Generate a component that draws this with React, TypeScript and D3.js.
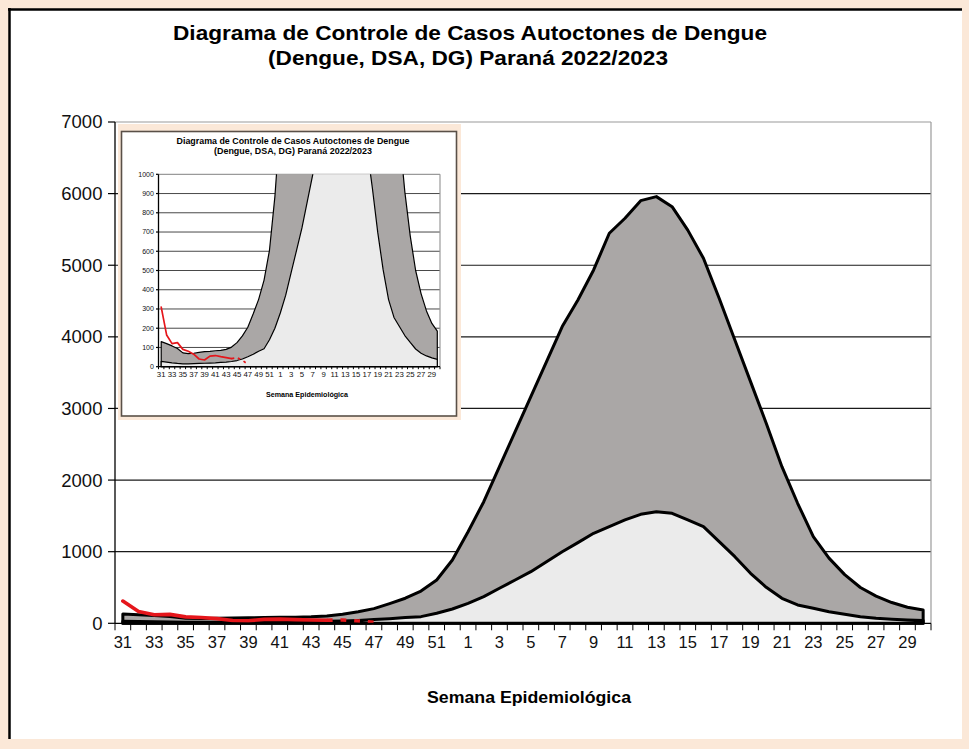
import * as d3 from "d3";

// semanas epidemiológicas 31/2022 .. 30/2023
const weeks = [
  31, 32, 33, 34, 35, 36, 37, 38, 39, 40, 41, 42, 43, 44, 45, 46, 47, 48, 49, 50, 51, 52,
  1, 2, 3, 4, 5, 6, 7, 8, 9, 10, 11, 12, 13, 14, 15, 16, 17, 18, 19, 20, 21, 22, 23, 24, 25,
  26, 27, 28, 29, 30,
];

// limite superior (área cinza escura)
const limiteSuperior = [
  130, 120, 108, 95, 72, 68, 70, 74, 78, 80, 83, 85, 90, 102, 125, 160, 205, 275, 350, 450,
  605, 884, 1279, 1698, 2187, 2676, 3165, 3654, 4143, 4515, 4934, 5447, 5656, 5902, 5958,
  5818, 5490, 5097, 4539, 3957, 3375, 2793, 2187, 1676, 1210, 910, 680, 500, 380, 290, 225,
  185,
];

// média / limite inferior (área cinza clara)
const limiteInferior = [
  28, 24, 20, 17, 15, 15, 16, 17, 18, 19, 20, 22, 24, 27, 32, 40, 52, 65, 80, 93, 140, 200,
  279, 372, 489, 605, 721, 861, 1000, 1126, 1257, 1349, 1443, 1522, 1559, 1536, 1443, 1349,
  1140, 930, 698, 503, 349, 256, 209, 162, 126, 92, 70, 56, 46, 38,
];

// casos 2022/2023 (linha vermelha)
const casos = [310, 165, 120, 125, 90, 80, 65, 40, 35, 55, 58, 52, 47, 42];
// semanas mais recentes, ainda em aberto (tracejado)
const casosProvisorios = [42, 47, 33, 12];
const inicioProvisorio = 13;

const mainTicks = [0, 1000, 2000, 3000, 4000, 5000, 6000, 7000];
const insetTicks = [0, 100, 200, 300, 400, 500, 600, 700, 800, 900, 1000];

const titulo1 = "Diagrama de Controle de Casos Autoctones de Dengue";
const titulo2 = "(Dengue, DSA, DG) Paraná 2022/2023";
const eixoX = "Semana Epidemiológica";

const FONT = "'Liberation Sans', Arial, sans-serif";

const ControlChart = ({
  left,
  right,
  top,
  bottom,
  ticks,
  fontY,
  fontX,
  xLabelDy,
  tickLen,
  areaWidth,
  redWidth,
  gridWidth,
  clipId,
}) => {
  const x = d3.scaleBand().domain(d3.range(weeks.length)).range([left, right]);
  const cx = (i) => x(i) + x.bandwidth() / 2;
  const yMax = ticks[ticks.length - 1];
  const y = d3.scaleLinear().domain([0, yMax]).range([bottom, top]);

  const area = d3
    .area()
    .x((d, i) => cx(i))
    .y0(y(0))
    .y1((d) => y(d));

  const line = d3
    .line()
    .x((d, i) => cx(i))
    .y((d) => y(d));

  const lineProv = d3
    .line()
    .x((d, i) => cx(i + inicioProvisorio))
    .y((d) => y(d));

  const boundaries = d3.range(weeks.length + 1).map((i) => left + i * x.step());

  return (
    <g>
      <defs>
        <clipPath id={clipId}>
          <rect x={left} y={top} width={right - left} height={bottom - top + 2} />
        </clipPath>
      </defs>
      <rect x={left} y={top} width={right - left} height={bottom - top} fill="#fff" />
      {ticks.slice(1, -1).map((t) => (
        <line
          key={t}
          x1={left}
          x2={right}
          y1={y(t)}
          y2={y(t)}
          stroke="#1a1a1a"
          strokeWidth={gridWidth}
        />
      ))}
      <line x1={left} x2={right} y1={top} y2={top} stroke="#9a9a9a" strokeWidth={1.2} />
      <line x1={right} x2={right} y1={top} y2={bottom} stroke="#9a9a9a" strokeWidth={1.2} />

      <g clipPath={`url(#${clipId})`}>
        <path
          d={area(limiteSuperior)}
          fill="#aaa7a6"
          stroke="#000"
          strokeWidth={areaWidth}
          strokeLinejoin="round"
        />
        <path
          d={area(limiteInferior)}
          fill="#ebebeb"
          stroke="#000"
          strokeWidth={areaWidth}
          strokeLinejoin="round"
        />
        <path
          d={line(casos)}
          fill="none"
          stroke="#e5161b"
          strokeWidth={redWidth}
          strokeLinejoin="round"
          strokeLinecap="round"
        />
        <path
          d={lineProv(casosProvisorios)}
          fill="none"
          stroke="#e5161b"
          strokeWidth={redWidth}
          strokeDasharray={`${redWidth * 1.6} ${redWidth * 2.2}`}
        />
      </g>

      {/* eixo Y */}
      <line x1={left} x2={left} y1={top} y2={bottom} stroke="#000" strokeWidth={1.3} />
      {ticks.map((t) => (
        <g key={t}>
          <line
            x1={left - tickLen}
            x2={left}
            y1={y(t)}
            y2={y(t)}
            stroke="#000"
            strokeWidth={1.2}
          />
          <text
            x={left - tickLen - fontY * 0.3}
            y={y(t)}
            dy="0.35em"
            textAnchor="end"
            fontSize={fontY}
            fontFamily={FONT}
            fill="#111"
          >
            {t}
          </text>
        </g>
      ))}

      {/* eixo X */}
      <line x1={left} x2={right} y1={bottom} y2={bottom} stroke="#000" strokeWidth={1.3} />
      {boundaries.map((bx, i) => (
        <line
          key={i}
          x1={bx}
          x2={bx}
          y1={bottom}
          y2={bottom + tickLen}
          stroke="#000"
          strokeWidth={1}
        />
      ))}
      {weeks.map((w, i) =>
        i % 2 === 0 ? (
          <text
            key={i}
            x={cx(i)}
            y={bottom + xLabelDy}
            textAnchor="middle"
            fontSize={fontX}
            fontFamily={FONT}
            fill="#111"
          >
            {w}
          </text>
        ) : null
      )}
    </g>
  );
};

export default function App() {
  const W = 969;
  const H = 749;
  return (
    <svg
      width={W}
      height={H}
      style={{ position: "absolute", left: 0, top: 0, display: "block" }}
    >
      <rect x={0} y={0} width={W} height={H} fill="#fbe8d8" />
      <rect x={9} y={9} width={953} height={730} fill="#fff" />
      <line x1={8} x2={962} y1={9.5} y2={9.5} stroke="#000" strokeWidth={2.5} />
      <line x1={9.5} x2={9.5} y1={8} y2={739} stroke="#000" strokeWidth={2.5} />

      <text
        x={470}
        y={40}
        textAnchor="middle"
        fontSize={20.5}
        fontWeight="bold"
        fontFamily={FONT}
        textLength={594}
        lengthAdjust="spacingAndGlyphs"
      >
        {titulo1}
      </text>
      <text
        x={468}
        y={65}
        textAnchor="middle"
        fontSize={20.5}
        fontWeight="bold"
        fontFamily={FONT}
        textLength={400}
        lengthAdjust="spacingAndGlyphs"
      >
        {titulo2}
      </text>

      <ControlChart
        left={115}
        right={931}
        top={122}
        bottom={623.3}
        ticks={mainTicks}
        fontY={18.5}
        fontX={16.5}
        xLabelDy={25}
        tickLen={7}
        areaWidth={3}
        redWidth={3.6}
        gridWidth={1.2}
        clipId="clipMain"
      />

      <text
        x={529}
        y={703}
        textAnchor="middle"
        fontSize={16.5}
        fontWeight="bold"
        fontFamily={FONT}
        textLength={204}
        lengthAdjust="spacingAndGlyphs"
      >
        {eixoX}
      </text>

      {/* gráfico ampliado (0–1000) */}
      <rect x={118} y={124} width={343} height={296} fill="#fbe8d8" />
      <rect
        x={121.5}
        y={131.5}
        width={335}
        height={284.5}
        fill="#fff"
        stroke="#5a5048"
        strokeWidth={1.6}
      />
      <text
        x={293}
        y={144}
        textAnchor="middle"
        fontSize={8.5}
        fontWeight="bold"
        fontFamily={FONT}
        textLength={233}
        lengthAdjust="spacingAndGlyphs"
      >
        {titulo1}
      </text>
      <text
        x={293}
        y={154}
        textAnchor="middle"
        fontSize={8.5}
        fontWeight="bold"
        fontFamily={FONT}
        textLength={158}
        lengthAdjust="spacingAndGlyphs"
      >
        {titulo2}
      </text>
      <ControlChart
        left={158.5}
        right={440}
        top={174.3}
        bottom={366.7}
        ticks={insetTicks}
        fontY={7}
        fontX={7.8}
        xLabelDy={10}
        tickLen={2.5}
        areaWidth={1.2}
        redWidth={1.7}
        gridWidth={0.8}
        clipId="clipInset"
      />
      <text
        x={307}
        y={397}
        textAnchor="middle"
        fontSize={7.2}
        fontWeight="bold"
        fontFamily={FONT}
        textLength={82}
        lengthAdjust="spacingAndGlyphs"
      >
        {eixoX}
      </text>
    </svg>
  );
}
